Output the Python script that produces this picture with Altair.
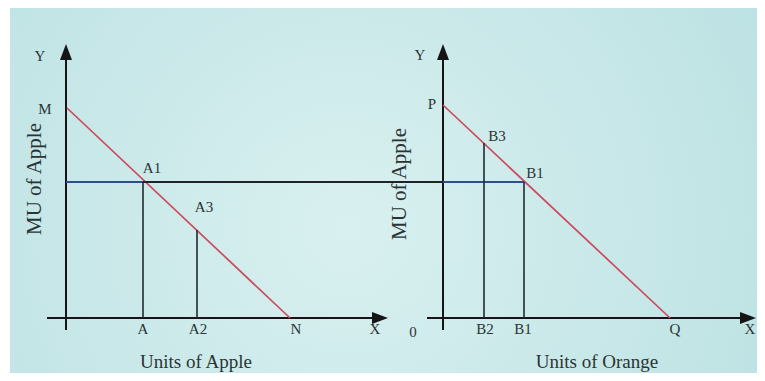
import altair as alt
import pandas as pd

# ---- diagram data (page coordinates, y grows downward) ----
seg_x1 = [66, 47, 443, 427, 67, 443, 66, 143, 443, 143, 197, 484, 524]
seg_y1 = [52, 318, 52, 318, 108, 105, 182, 182, 182, 182, 230, 143, 182]
seg_x2 = [66, 378, 443, 745, 290, 670, 143, 443, 524, 143, 197, 484, 524]
seg_y2 = [330, 318, 330, 318, 318, 318, 182, 182, 182, 318, 318, 318, 318]
seg_kind = ["axis", "axis", "axis", "axis", "curve", "curve", "blue", "dark", "blue",
            "drop", "drop", "drop", "drop"]

arrow_up_x = [66, 443]
arrow_up_y = [52, 52]
arrow_right_x = [380, 748]
arrow_right_y = [318, 318]

lab_text = ["Y", "M", "A1", "A3", "A", "A2", "N", "X",
            "Y", "P", "B3", "B1", "0", "B2", "B1", "Q", "X"]
lab_x = [40, 45, 152, 204, 143, 198, 296, 375,
         420, 432, 497, 535, 413, 485, 523, 675, 750]
lab_y = [56, 109, 168, 207, 329, 329, 329, 329,
         55, 104, 136, 173, 332, 329, 329, 329, 329]

title_text = ["Units of Apple", "Units of Orange"]
title_x = [196, 597]
title_y = [362, 362]

ytitle_text = ["MU  of Apple", "MU  of Apple"]
ytitle_x = [35, 400]
ytitle_y = [179, 184]

kind_color = {"axis": "#151515", "curve": "#cc4a5c", "blue": "#2d4f8e",
              "dark": "#1f2428", "drop": "#1d2b36"}
kind_width = {"axis": 2.0, "curve": 1.7, "blue": 2.0, "dark": 1.8, "drop": 1.6}

segs = pd.DataFrame({"x": seg_x1, "y": seg_y1, "x2": seg_x2, "y2": seg_y2,
                     "kind": seg_kind})
segs["color"] = segs["kind"].map(kind_color)
segs["w"] = segs["kind"].map(kind_width)

labels = pd.DataFrame({"x": lab_x, "y": lab_y, "t": lab_text})
titles = pd.DataFrame({"x": title_x, "y": title_y, "t": title_text})
ytitles = pd.DataFrame({"x": ytitle_x, "y": ytitle_y, "t": ytitle_text})
up = pd.DataFrame({"x": arrow_up_x, "y": arrow_up_y})
right = pd.DataFrame({"x": arrow_right_x, "y": arrow_right_y})

W, H = 749, 365
XS = alt.Scale(domain=[8, 8 + W], nice=False, zero=False)
YS = alt.Scale(domain=[8, 8 + H], nice=False, zero=False, reverse=True)

def X(f="x"):
    return alt.X(f, type="quantitative", scale=XS, axis=None)

def Y(f="y"):
    return alt.Y(f, type="quantitative", scale=YS, axis=None)

bg = alt.Chart(pd.DataFrame({"a": [0]})).mark_rect(
    fill={"gradient": "radial", "x1": 0.45, "y1": 0.55, "r1": 0.0,
          "x2": 0.45, "y2": 0.55, "r2": 0.62,
          "stops": [{"offset": 0, "color": "#d9f0f0"},
                    {"offset": 1, "color": "#bde2e3"}]},
    stroke=None,
).encode(x=alt.value(2), x2=alt.value(W), y=alt.value(0), y2=alt.value(H))

lines = alt.Chart(segs).mark_rule(strokeCap="butt").encode(
    x=X("x"), y=Y("y"), x2="x2", y2="y2",
    color=alt.Color("color:N", scale=None),
    strokeWidth=alt.StrokeWidth("w:Q", scale=None),
)

up_arrows = alt.Chart(up).mark_point(
    shape="M0,-1L0.75,1L-0.75,1Z", filled=True, size=256, color="#151515", opacity=1
).encode(x=X(), y=Y())

right_arrows = alt.Chart(right).mark_point(
    shape="M1,0L-1,-0.75L-1,0.75Z", filled=True, size=256, color="#151515", opacity=1
).encode(x=X(), y=Y())

small = alt.Chart(labels).mark_text(
    font="Liberation Serif", fontSize=15, color="#2a3434", baseline="middle", align="center"
).encode(x=X(), y=Y(), text="t:N")

big = alt.Chart(titles).mark_text(
    font="Liberation Serif", fontSize=19, color="#2a3434", baseline="middle", align="center"
).encode(x=X(), y=Y(), text="t:N")

vert = alt.Chart(ytitles).mark_text(
    font="Liberation Serif", fontSize=21, color="#2a3434", baseline="middle",
    align="center", angle=270
).encode(x=X(), y=Y(), text="t:N")

chart = alt.layer(bg, lines, up_arrows, right_arrows, small, big, vert).properties(
    width=W, height=H, padding=0, autosize="none", background="white"
).configure_view(stroke=None)

chart.save("out.html", embed_options={"renderer": "svg", "actions": False})
